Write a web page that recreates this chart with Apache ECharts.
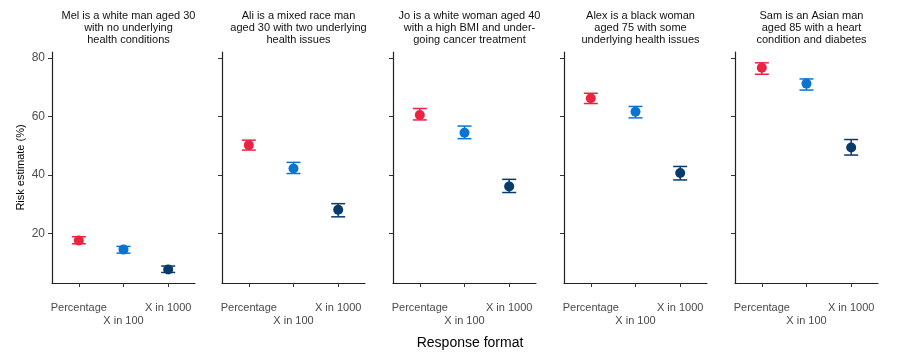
<!DOCTYPE html>
<html>
<head>
<meta charset="utf-8">
<script src="https://cdn.jsdelivr.net/npm/echarts@6/dist/echarts.min.js"></script>
<style>html,body{margin:0;padding:0;background:#fff}#c{width:902px;height:358px}</style>
</head>
<body>
<div id="c"></div>
<script>
const categories = ['Percentage', 'X in 100', 'X in 1000'];
const panelTitles = [
  'Mel is a white man aged 30\nwith no underlying\nhealth conditions',
  'Ali is a mixed race man\naged 30 with two underlying\nhealth issues',
  'Jo is a white woman aged 40\nwith a high BMI and under-\ngoing cancer treatment',
  'Alex is a black woman\naged 75 with some\nunderlying health issues',
  'Sam is an Asian man\naged 85 with a heart\ncondition and diabetes'
];
// point estimates per panel: [Percentage, X in 100, X in 1000]
const estimates = [
  [17.6, 14.5, 7.7],
  [50.2, 42.2, 28.1],
  [60.5, 54.4, 36.1],
  [66.2, 61.6, 40.7],
  [76.6, 71.2, 49.4]
];
const lowers = [
  [16.5, 13.3, 6.7],
  [48.5, 40.5, 25.7],
  [58.8, 52.4, 34.0],
  [64.4, 59.5, 38.3],
  [74.4, 69.0, 46.8]
];
const uppers = [
  [18.9, 15.6, 8.9],
  [51.9, 44.3, 30.2],
  [62.7, 56.7, 38.5],
  [67.9, 63.4, 42.9],
  [78.3, 72.8, 52.1]
];
const yTicks = [20, 40, 60, 80];
const colors = ['#ec2240', '#0a74d2', '#083a6b'];

const gridLefts = [52, 222, 393, 564, 735];
const gridW = 143;
const grids = [], xAxes = [], xAxes2 = [], yAxes = [], series = [], titles = [];
const labelStyle = { fontFamily: 'Liberation Sans, Arial', fontSize: 11, color: '#4a4a4a' };
gridLefts.forEach((left, i) => {
  grids.push({ left: left, top: 52, width: gridW, height: 231 });
  xAxes.push({
    type: 'value', gridIndex: i, min: -0.6, max: 2.6,
    splitLine: { show: false },
    axisLine: { show: true, onZero: false, lineStyle: { color: '#222', width: 1.2 } },
    axisTick: { show: true, customValues: [0, 1, 2], length: 4, lineStyle: { color: '#333' } },
    axisLabel: Object.assign({
      customValues: [0, 2], margin: 19, hideOverlap: false,
      formatter: v => categories[Math.round(v)]
    }, labelStyle)
  });
  xAxes2.push({
    type: 'value', gridIndex: i, min: -0.6, max: 2.6, position: 'bottom', offset: 13,
    splitLine: { show: false },
    axisLine: { show: false, onZero: false },
    axisTick: { show: false },
    axisLabel: Object.assign({
      customValues: [1], margin: 19, hideOverlap: false,
      formatter: v => categories[Math.round(v)]
    }, labelStyle)
  });
  yAxes.push({
    type: 'value', gridIndex: i, min: 3.1, max: 82,
    splitLine: { show: false },
    axisLine: { show: true, onZero: false, lineStyle: { color: '#222', width: 1.2 } },
    axisTick: { show: true, customValues: yTicks, length: 4, lineStyle: { color: '#333' } },
    axisLabel: {
      show: i === 0, customValues: yTicks, margin: 7,
      fontFamily: 'Liberation Sans, Arial', fontSize: 12, color: '#4d4d4d'
    },
    name: i === 0 ? 'Risk estimate (%)' : '',
    nameLocation: 'middle', nameGap: 26,
    nameTextStyle: { fontFamily: 'Liberation Sans, Arial', fontSize: 11, color: '#000' }
  });
  titles.push({
    text: panelTitles[i], left: left + gridW / 2, top: 5, textAlign: 'center',
    textStyle: { fontFamily: 'Liberation Sans, Arial', fontSize: 11, fontWeight: 'normal', color: '#111', lineHeight: 12 }
  });
  series.push({
    type: 'custom', xAxisIndex: i, yAxisIndex: i,
    data: categories.map((c, j) => [j, lowers[i][j], uppers[i][j]]),
    renderItem: (params, api) => {
      const x = api.value(0);
      const lo = api.coord([x, api.value(1)]);
      const hi = api.coord([x, api.value(2)]);
      const hw = 7;
      const col = colors[params.dataIndex];
      const st = { stroke: col, lineWidth: 1.5 };
      return { type: 'group', children: [
        { type: 'line', shape: { x1: lo[0], y1: lo[1], x2: hi[0], y2: hi[1] }, style: st },
        { type: 'line', shape: { x1: lo[0] - hw, y1: lo[1], x2: lo[0] + hw, y2: lo[1] }, style: st },
        { type: 'line', shape: { x1: hi[0] - hw, y1: hi[1], x2: hi[0] + hw, y2: hi[1] }, style: st }
      ]};
    },
    z: 2
  });
  series.push({
    type: 'scatter', xAxisIndex: i, yAxisIndex: i, symbolSize: 10,
    data: categories.map((c, j) => ({ value: [j, estimates[i][j]], itemStyle: { color: colors[j], opacity: 1 } })),
    z: 3
  });
});
titles.push({
  text: 'Response format', left: 465, top: 331, textAlign: 'center',
  textStyle: { fontFamily: 'Liberation Sans, Arial', fontSize: 14, fontWeight: 'normal', color: '#000' }
});

const chart = echarts.init(document.getElementById('c'), null, { renderer: 'canvas' });
chart.setOption({
  animation: false,
  backgroundColor: '#fff',
  title: titles,
  grid: grids, xAxis: xAxes.concat(xAxes2), yAxis: yAxes, series: series
});
</script>
</body>
</html>
